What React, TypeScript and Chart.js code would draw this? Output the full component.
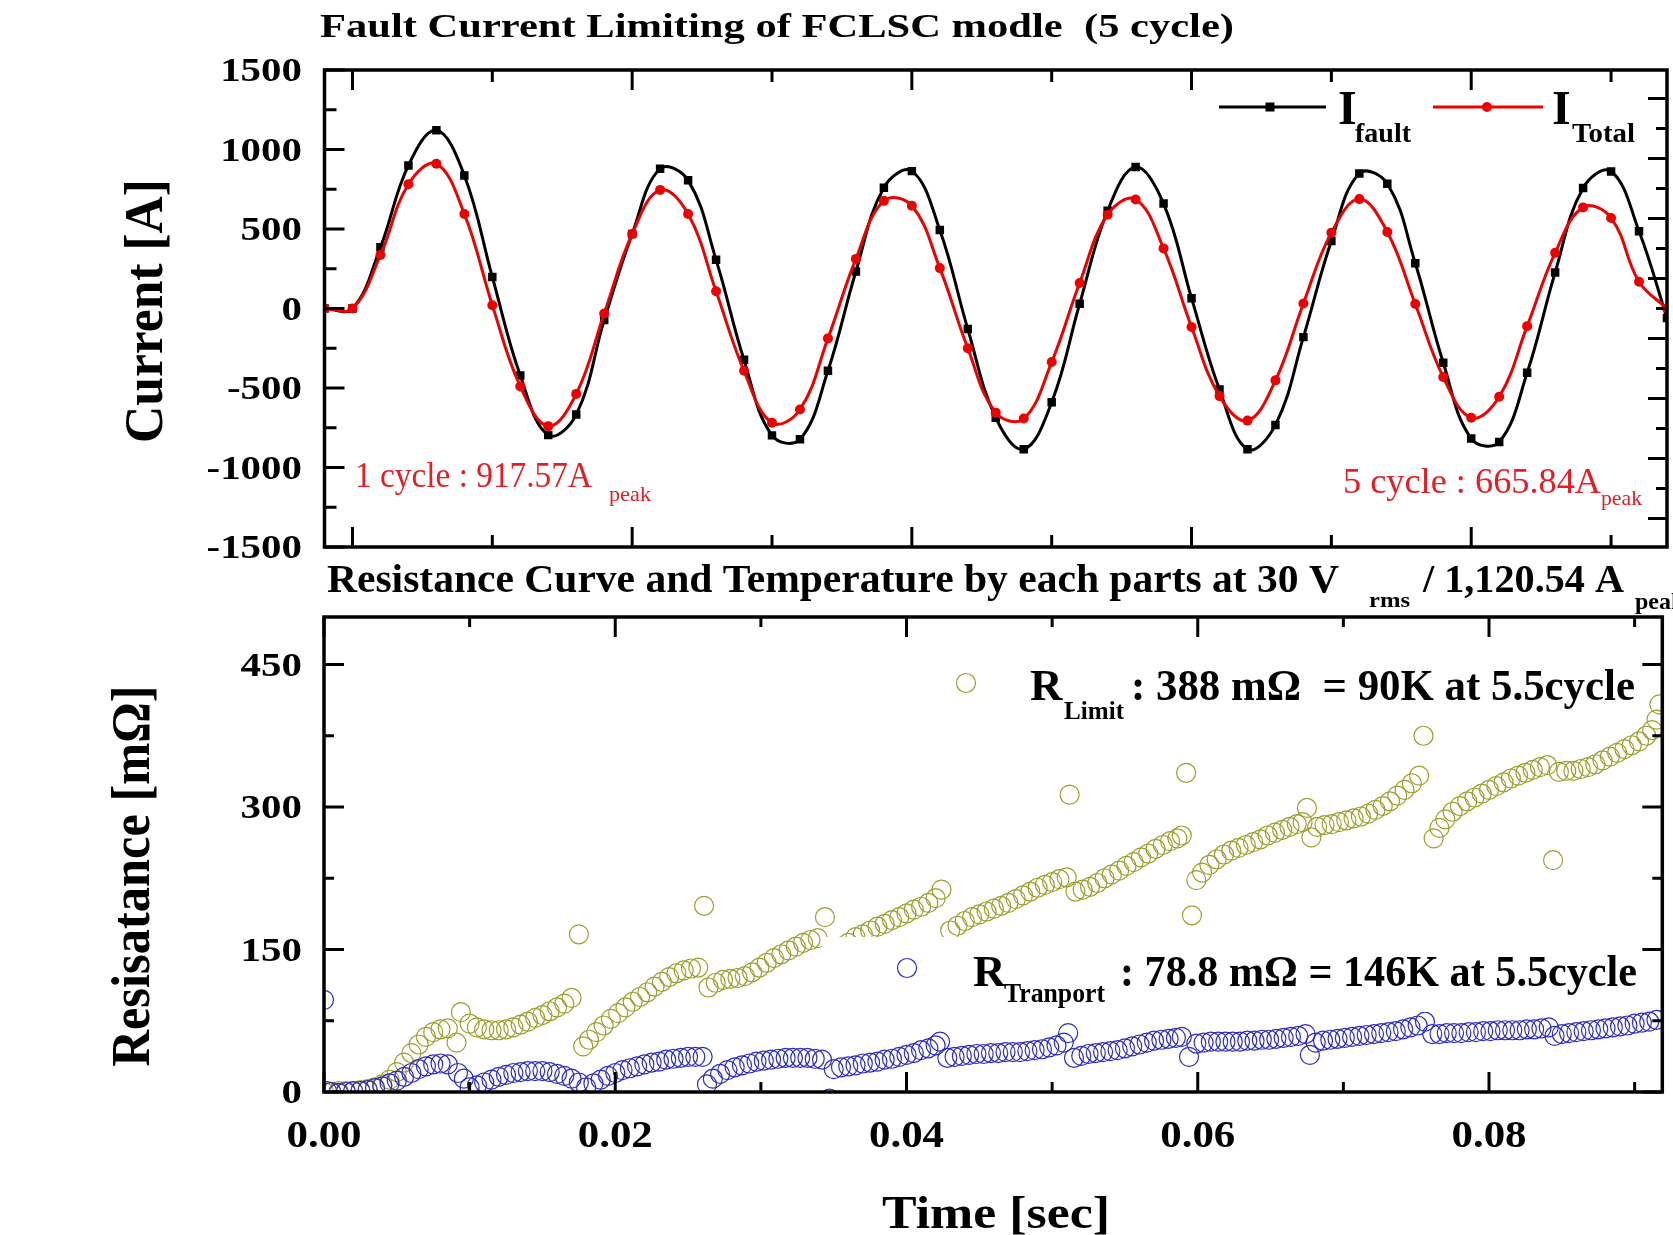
import React, { useEffect, useRef } from 'react';
import { Chart, registerables } from 'chart.js';

Chart.register(...registerables);

const PAGE_W = 1673;
const PAGE_H = 1235;
const SERIF = '"Liberation Serif", "Times New Roman", serif';
const RED = '#ee0000';
const RED_TEXT = '#e31e24';
const OLIVE = '#9e9e2c';
const BLUE = '#2c2cc8';

// ---------- Top chart: fault current ----------
const currentTime = [
  -0.002, 0, 0.002, 0.004, 0.006, 0.008, 0.01, 0.012, 0.014, 0.016, 0.018, 0.02, 0.022, 0.024, 0.026, 0.028,
  0.03, 0.032, 0.034, 0.036, 0.038, 0.04, 0.042, 0.044, 0.046, 0.048, 0.05, 0.052, 0.054, 0.056, 0.058, 0.06,
  0.062, 0.064, 0.066, 0.068, 0.07, 0.072, 0.074, 0.076, 0.078, 0.08, 0.082, 0.084, 0.086, 0.088, 0.09, 0.092, 0.094,
];
const iFault = [
  0, 0, 385, 900, 1121, 837, 198, -421, -796, -667, -73, 469, 879, 806, 306, -323,
  -798, -823, -392, 233, 760, 864, 494, -129, -687, -885, -590, 30, 615, 890, 660, 65,
  -510, -885, -732, -180, 425, 849, 785, 285, -341, -818, -839, -404, 226, 758, 862, 486, -60,
];
const iTotal = [
  0, 0, 337, 781, 910, 594, 21, -490, -740, -537, -31, 469, 746, 594, 108, -392,
  -719, -635, -188, 312, 677, 646, 254, -250, -655, -692, -337, 160, 590, 686, 378, -116,
  -551, -705, -452, 32, 477, 688, 481, 28, -431, -687, -555, -111, 350, 636, 569, 168, 0,
];
const currentMajor = [-1500, -1000, -500, 0, 500, 1000, 1500];
const currentMinor = [-1250, -750, -250, 250, 750, 1250];
const currentLabels = ['-1500', '-1000', '-500', '0', '500', '1000', '1500'];
const mirrorTicks = [-1400, -1200, -1000, -800, -600, -400, -200, 0, 200, 400, 600, 800, 1000, 1200, 1400];
const timeMajor = [0, 0.02, 0.04, 0.06, 0.08];
const timeMinor = [0.01, 0.03, 0.05, 0.07, 0.09];
const timeLabels = ['0.00', '0.02', '0.04', '0.06', '0.08'];

// ---------- Bottom chart: resistance ----------
const limitTime = [
  0.0000, 0.0005, 0.0010, 0.0015, 0.0020, 0.0025, 0.0030, 0.0035, 0.0040, 0.0045,
  0.0050, 0.0055, 0.0060, 0.0065, 0.0070, 0.0075, 0.0080, 0.0085, 0.0091, 0.0094,
  0.0100, 0.0105, 0.0110, 0.0115, 0.0120, 0.0125, 0.0130, 0.0135, 0.0140, 0.0145,
  0.0150, 0.0155, 0.0160, 0.0165, 0.0170, 0.0175, 0.0178, 0.0182, 0.0187, 0.0192,
  0.0197, 0.0202, 0.0207, 0.0212, 0.0217, 0.0222, 0.0227, 0.0232, 0.0237, 0.0242,
  0.0247, 0.0252, 0.0257, 0.0261, 0.0264, 0.0269, 0.0274, 0.0279, 0.0284, 0.0289,
  0.0294, 0.0299, 0.0304, 0.0309, 0.0314, 0.0319, 0.0324, 0.0329, 0.0334, 0.0339,
  0.0344, 0.0350, 0.0355, 0.0360, 0.0365, 0.0370, 0.0375, 0.0380, 0.0385, 0.0390,
  0.0395, 0.0400, 0.0405, 0.0410, 0.0415, 0.0420, 0.0424, 0.0430, 0.0435, 0.0440,
  0.0445, 0.0450, 0.0455, 0.0460, 0.0465, 0.0470, 0.0475, 0.0480, 0.0485, 0.0490,
  0.0495, 0.0500, 0.0505, 0.0510, 0.0512, 0.0516, 0.0521, 0.0526, 0.0531, 0.0536,
  0.0541, 0.0546, 0.0551, 0.0556, 0.0561, 0.0566, 0.0571, 0.0576, 0.0581, 0.0586,
  0.0589, 0.0592, 0.0596, 0.0599, 0.0603, 0.0608, 0.0613, 0.0618, 0.0623, 0.0628,
  0.0633, 0.0638, 0.0643, 0.0648, 0.0653, 0.0658, 0.0663, 0.0668, 0.0672, 0.0675,
  0.0678, 0.0682, 0.0687, 0.0692, 0.0697, 0.0702, 0.0707, 0.0712, 0.0717, 0.0722,
  0.0727, 0.0732, 0.0737, 0.0742, 0.0747, 0.0752, 0.0755, 0.0762, 0.0766, 0.0770,
  0.0775, 0.0780, 0.0785, 0.0790, 0.0795, 0.0800, 0.0805, 0.0810, 0.0815, 0.0820,
  0.0825, 0.0830, 0.0835, 0.0840, 0.0844, 0.0848, 0.0853, 0.0858, 0.0863, 0.0868,
  0.0873, 0.0878, 0.0883, 0.0888, 0.0893, 0.0898, 0.0903, 0.0908, 0.0912, 0.0915,
  0.0917,
];
const limitR = [
  0, 0, 1, 1, 1, 2, 3, 5, 8, 13,
  21, 31, 41, 50, 58, 63, 66, 67, 52, 84,
  72, 68, 66, 65, 65, 66, 68, 71, 74, 78,
  81, 85, 89, 93, 99, 166, 48, 55, 63, 70,
  77, 83, 89, 95, 100, 105, 111, 116, 121, 125,
  128, 130, 131, 196, 110, 115, 118, 119, 120, 122,
  126, 131, 136, 141, 145, 149, 153, 157, 160, 162,
  184, 150, 153, 157, 163, 166, 170, 174, 177, 181,
  184, 188, 192, 195, 199, 204, 213, 170, 175, 180,
  184, 187, 190, 193, 196, 199, 203, 207, 211, 215,
  218, 221, 224, 226, 313, 211, 213, 216, 220, 225,
  229, 233, 238, 242, 247, 251, 256, 260, 264, 267,
  270, 336, 186, 223, 231, 239, 245, 250, 254, 257,
  260, 263, 266, 270, 273, 276, 279, 282, 284, 299,
  268, 279, 281, 282, 284, 286, 288, 290, 293, 297,
  301, 306, 312, 318, 325, 333, 375, 267, 278, 287,
  295, 301, 306, 310, 314, 318, 322, 326, 330, 333,
  336, 339, 342, 344, 244, 337, 338, 338, 340, 342,
  345, 349, 353, 357, 361, 365, 369, 375, 381, 392,
  408,
];
const transportTime = [
  0.0000, 0.0002, 0.0005, 0.0010, 0.0015, 0.0020, 0.0025, 0.0030, 0.0035, 0.0040,
  0.0045, 0.0050, 0.0055, 0.0060, 0.0065, 0.0070, 0.0075, 0.0080, 0.0085, 0.0092,
  0.0096, 0.0100, 0.0105, 0.0110, 0.0115, 0.0120, 0.0125, 0.0130, 0.0135, 0.0140,
  0.0145, 0.0150, 0.0155, 0.0160, 0.0165, 0.0170, 0.0175, 0.0180, 0.0185, 0.0190,
  0.0195, 0.0200, 0.0205, 0.0210, 0.0215, 0.0220, 0.0225, 0.0230, 0.0235, 0.0240,
  0.0245, 0.0250, 0.0255, 0.0260, 0.0263, 0.0267, 0.0272, 0.0277, 0.0282, 0.0287,
  0.0292, 0.0297, 0.0302, 0.0307, 0.0312, 0.0317, 0.0322, 0.0327, 0.0332, 0.0337,
  0.0342, 0.0347, 0.0350, 0.0355, 0.0360, 0.0365, 0.0370, 0.0375, 0.0380, 0.0385,
  0.0390, 0.0395, 0.0400, 0.0405, 0.0410, 0.0415, 0.0420, 0.0423, 0.0428, 0.0433,
  0.0438, 0.0443, 0.0448, 0.0453, 0.0458, 0.0463, 0.0468, 0.0473, 0.0478, 0.0483,
  0.0488, 0.0493, 0.0498, 0.0503, 0.0508, 0.0511, 0.0515, 0.0520, 0.0525, 0.0530,
  0.0535, 0.0540, 0.0545, 0.0550, 0.0555, 0.0560, 0.0565, 0.0570, 0.0575, 0.0580,
  0.0585, 0.0589, 0.0594, 0.0599, 0.0604, 0.0609, 0.0614, 0.0619, 0.0624, 0.0629,
  0.0634, 0.0639, 0.0644, 0.0649, 0.0654, 0.0659, 0.0664, 0.0669, 0.0674, 0.0677,
  0.0681, 0.0686, 0.0691, 0.0696, 0.0701, 0.0706, 0.0711, 0.0716, 0.0721, 0.0726,
  0.0731, 0.0736, 0.0741, 0.0746, 0.0751, 0.0756, 0.0761, 0.0766, 0.0771, 0.0776,
  0.0781, 0.0786, 0.0791, 0.0796, 0.0801, 0.0806, 0.0811, 0.0816, 0.0821, 0.0826,
  0.0831, 0.0836, 0.0841, 0.0845, 0.0850, 0.0855, 0.0860, 0.0865, 0.0870, 0.0875,
  0.0880, 0.0885, 0.0890, 0.0895, 0.0900, 0.0905, 0.0910, 0.0915,
];
const transportR = [
  97, 1, 0, -1, 0, 1, 1, 2, 4, 6,
  9, 12, 16, 20, 24, 27, 29, 30, 29, 20,
  14, 5, 7, 10, 13, 16, 18, 20, 21, 22,
  22, 22, 21, 19, 17, 14, 10, 5, 9, 13,
  17, 20, 23, 25, 27, 29, 31, 32, 34, 35,
  36, 37, 37, 37, 8, 14, 19, 23, 26, 28,
  30, 32, 33, 34, 35, 36, 36, 36, 36, 35,
  34, -7, 24, 26, 27, 28, 30, 31, 32, 34,
  35, 37, 39, 41, 44, 46, 49, 53, 36, 37,
  38, 39, 40, 40, 41, 41, 42, 42, 42, 43,
  44, 45, 47, 49, 52, 62, 36, 38, 40, 41,
  42, 43, 44, 46, 48, 50, 52, 54, 55, 56,
  57, 58, 37, 51, 52, 53, 53, 53, 53, 53,
  54, 54, 55, 55, 56, 57, 58, 59, 61, 39,
  52, 54, 55, 56, 57, 58, 59, 60, 61, 62,
  63, 64, 66, 68, 70, 74, 61, 61, 62, 62,
  62, 63, 63, 64, 64, 65, 65, 65, 65, 66,
  66, 67, 68, 59, 61, 62, 63, 64, 65, 66,
  67, 68, 69, 70, 72, 73, 74, 76,
];
const resMajor = [0, 150, 300, 450];
const resMinor = [75, 225, 375];
const resLabels = ['0', '150', '300', '450'];

// ---------- drawing helpers ----------
type TOpts = {
  size: number;
  bold?: boolean;
  color?: string;
  width?: number;
  sx?: number;
  align?: 'left' | 'center' | 'right';
  rotate?: boolean;
  base?: CanvasTextBaseline;
};

function drawText(ctx: CanvasRenderingContext2D, text: string, x: number, y: number, o: TOpts) {
  ctx.save();
  ctx.font = `${o.bold === false ? '' : 'bold '}${o.size}px ${SERIF}`;
  ctx.fillStyle = o.color || '#000';
  ctx.textBaseline = o.base || 'alphabetic';
  ctx.textAlign = 'left';
  const w = ctx.measureText(text).width;
  const sx = o.width ? o.width / w : o.sx || 1;
  ctx.translate(x, y);
  if (o.rotate) ctx.rotate(-Math.PI / 2);
  ctx.scale(sx, 1);
  const a = o.align || 'left';
  const x0 = a === 'center' ? -w / 2 : a === 'right' ? -w : 0;
  ctx.fillText(text, x0, 0);
  ctx.restore();
}

function seg(ctx: CanvasRenderingContext2D, x1: number, y1: number, x2: number, y2: number) {
  ctx.beginPath();
  ctx.moveTo(x1, y1);
  ctx.lineTo(x2, y2);
  ctx.stroke();
}

function drawFrame(
  chart: any,
  xMajor: number[],
  xMinor: number[],
  yMajor: number[],
  yMinor: number[],
  majorLen: number,
  minorLen: number,
  mirrorRight: boolean,
) {
  const { ctx, chartArea: a, scales } = chart;
  const xs = scales.x;
  const ys = scales.y;
  ctx.save();
  ctx.strokeStyle = '#000';
  ctx.lineWidth = 3;
  const xt = (vals: number[], len: number) => {
    for (const v of vals) {
      const p = xs.getPixelForValue(v);
      seg(ctx, p, a.bottom, p, a.bottom - len);
      seg(ctx, p, a.top, p, a.top + len);
    }
  };
  const yt = (vals: number[], len: number) => {
    for (const v of vals) {
      const p = ys.getPixelForValue(v);
      seg(ctx, a.left, p, a.left + len, p);
      if (mirrorRight) seg(ctx, a.right, p, a.right - len, p);
    }
  };
  xt(xMajor, majorLen);
  xt(xMinor, minorLen);
  yt(yMajor, majorLen);
  yt(yMinor, minorLen);
  ctx.lineWidth = 3.5;
  ctx.strokeRect(a.left, a.top, a.right - a.left, a.bottom - a.top);
  ctx.restore();
}

const topDecor = {
  id: 'topDecor',
  afterDraw(chart: any) {
    const { ctx, chartArea: a, scales } = chart;
    drawFrame(chart, timeMajor, timeMinor, currentMajor, currentMinor, 20, 12, false);
    // right-hand mirrored ticks of the second layer
    const y2 = scales.y2;
    ctx.save();
    ctx.strokeStyle = '#000';
    ctx.lineWidth = 3;
    for (const v of mirrorTicks) {
      const p = y2.getPixelForValue(v);
      const long = Math.abs(v / 200) % 2 === 1;
      seg(ctx, a.right, p, a.right - (long ? 19 : 11), p);
    }
    ctx.restore();

    // y tick labels
    currentMajor.forEach((v, i) => {
      drawText(ctx, currentLabels[i], 302, scales.y.getPixelForValue(v) + 11, { size: 33, sx: 1.24, align: 'right' });
    });
    // title and axis title
    drawText(ctx, 'Fault Current Limiting of FCLSC modle  (5 cycle)', 320, 37, { size: 34, width: 914 });
    drawText(ctx, 'Current [A]', 148, 311, { size: 54, rotate: true, align: 'center', width: 264, base: 'middle' });

    // legend
    ctx.save();
    ctx.lineWidth = 3;
    ctx.strokeStyle = '#000';
    seg(ctx, 1219, 107, 1326, 107);
    ctx.fillStyle = '#000';
    ctx.fillRect(1270 - 4.5, 107 - 4.5, 9, 9);
    ctx.strokeStyle = RED;
    seg(ctx, 1433, 107, 1543, 107);
    ctx.fillStyle = RED;
    ctx.beginPath();
    ctx.arc(1487, 107, 5, 0, Math.PI * 2);
    ctx.fill();
    ctx.restore();
    drawText(ctx, 'I', 1338, 124, { size: 48 });
    drawText(ctx, 'fault', 1355, 142, { size: 27, width: 56 });
    drawText(ctx, 'I', 1552, 124, { size: 48 });
    drawText(ctx, 'Total', 1572, 142, { size: 27, width: 63 });

    // annotations
    drawText(ctx, '1 cycle : 917.57A', 355, 487, { size: 35, bold: false, color: RED_TEXT, width: 237 });
    drawText(ctx, 'peak', 609, 501, { size: 22, bold: false, color: RED_TEXT, width: 42 });
    drawText(ctx, '5 cycle : 665.84A', 1343, 493, { size: 35, bold: false, color: RED_TEXT, width: 258 });
    drawText(ctx, 'peak', 1601, 505, { size: 22, bold: false, color: RED_TEXT, width: 41 });
  },
};

const botDecor = {
  id: 'botDecor',
  afterDatasetsDraw(chart: any) {
    const { ctx } = chart;
    ctx.save();
    ctx.fillStyle = '#fff';
    ctx.fillRect(822, 937, 821, 75);
    ctx.restore();
  },
  afterDraw(chart: any) {
    const { ctx, scales } = chart;
    drawFrame(chart, timeMajor, timeMinor, resMajor, resMinor, 20, 10, true);
    resMajor.forEach((v, i) => {
      drawText(ctx, resLabels[i], 302, scales.y.getPixelForValue(v) + 11, { size: 33, sx: 1.24, align: 'right' });
    });
    timeMajor.forEach((v, i) => {
      drawText(ctx, timeLabels[i], scales.x.getPixelForValue(v), 1147, { size: 37, sx: 1.16, align: 'center' });
    });
    // titles
    drawText(ctx, 'Resistance Curve and Temperature by each parts at 30 V', 327, 592, { size: 40, width: 1012 });
    drawText(ctx, 'rms', 1369, 607, { size: 22, width: 41 });
    drawText(ctx, '/ 1,120.54 A', 1423, 592, { size: 40, width: 201 });
    drawText(ctx, 'peak', 1635, 609, { size: 24 });
    drawText(ctx, 'Resisatance [mΩ]', 135, 876, { size: 54, rotate: true, align: 'center', width: 381, base: 'middle' });
    drawText(ctx, 'Time [sec]', 996, 1228, { size: 46, align: 'center', width: 228 });

    // legend-like labels
    ctx.save();
    ctx.lineWidth = 1.2;
    ctx.strokeStyle = OLIVE;
    ctx.beginPath();
    ctx.arc(966, 683, 9.5, 0, Math.PI * 2);
    ctx.stroke();
    ctx.strokeStyle = BLUE;
    ctx.beginPath();
    ctx.arc(907, 968, 9.5, 0, Math.PI * 2);
    ctx.stroke();
    ctx.restore();
    drawText(ctx, 'R', 1030, 700, { size: 45 });
    drawText(ctx, 'Limit', 1064, 719, { size: 26, width: 60 });
    drawText(ctx, ': 388 mΩ  = 90K at 5.5cycle', 1131, 700, { size: 44, width: 504 });
    drawText(ctx, 'R', 973, 986, { size: 45 });
    drawText(ctx, 'Tranport', 1004, 1002, { size: 27, width: 101 });
    drawText(ctx, ': 78.8 mΩ = 146K at 5.5cycle', 1120, 986, { size: 45, width: 517 });
  },
};

export default function App() {
  const topRef = useRef<HTMLCanvasElement>(null);
  const botRef = useRef<HTMLCanvasElement>(null);

  useEffect(() => {
    const top = new Chart(topRef.current as HTMLCanvasElement, {
      type: 'line',
      data: {
        datasets: [
          {
            label: 'I_Total',
            data: currentTime.map((t, i) => ({ x: t, y: iTotal[i] })),
            borderColor: RED,
            backgroundColor: RED,
            borderWidth: 3,
            tension: 0.4,
            pointStyle: 'circle',
            pointRadius: 5,
            pointBackgroundColor: RED,
            pointBorderColor: RED,
            pointBorderWidth: 0,
            clip: 0,
          },
          {
            label: 'I_fault',
            data: currentTime.map((t, i) => ({ x: t, y: iFault[i] })),
            borderColor: '#000',
            backgroundColor: '#000',
            borderWidth: 3,
            tension: 0.4,
            pointStyle: 'rect',
            pointRadius: 6,
            pointBackgroundColor: '#000',
            pointBorderColor: '#000',
            pointBorderWidth: 0,
            clip: 0,
          },
        ],
      },
      options: {
        responsive: false,
        animation: false,
        devicePixelRatio: 1,
        events: [],
        layout: { padding: { left: 324.5, top: 70, right: 5, bottom: 688 } },
        plugins: { legend: { display: false }, tooltip: { enabled: false }, title: { display: false } },
        scales: {
          x: { type: 'linear', min: -0.002, max: 0.094, display: false },
          y: { type: 'linear', min: -1500, max: 1500, display: false },
          y2: { type: 'linear', position: 'right', min: -1590, max: 1590, display: false },
        },
      },
      plugins: [topDecor],
    } as any);

    const bot = new Chart(botRef.current as HTMLCanvasElement, {
      type: 'scatter',
      data: {
        datasets: [
          {
            label: 'R_Tranport',
            data: transportTime.map((t, i) => ({ x: t, y: transportR[i] })),
            pointStyle: 'circle',
            pointRadius: 9.5,
            pointBorderWidth: 1.2,
            pointBorderColor: BLUE,
            borderColor: BLUE,
            pointBackgroundColor: 'rgba(0,0,0,0)',
            backgroundColor: 'rgba(0,0,0,0)',
            showLine: false,
            clip: 0,
          },
          {
            label: 'R_Limit',
            data: limitTime.map((t, i) => ({ x: t, y: limitR[i] })),
            pointStyle: 'circle',
            pointRadius: 9.5,
            pointBorderWidth: 1.2,
            pointBorderColor: OLIVE,
            borderColor: OLIVE,
            pointBackgroundColor: 'rgba(0,0,0,0)',
            backgroundColor: 'rgba(0,0,0,0)',
            showLine: false,
            clip: 0,
          },
        ],
      },
      options: {
        responsive: false,
        animation: false,
        devicePixelRatio: 1,
        events: [],
        layout: { padding: { left: 324, top: 617, right: 6, bottom: 143 } },
        plugins: { legend: { display: false }, tooltip: { enabled: false }, title: { display: false } },
        scales: {
          x: { type: 'linear', min: 0, max: 0.0919, display: false },
          y: { type: 'linear', min: 0, max: 500, display: false },
        },
      },
      plugins: [botDecor],
    } as any);

    return () => {
      top.destroy();
      bot.destroy();
    };
  }, []);

  return (
    <div
      style={{
        position: 'absolute',
        left: 0,
        top: 0,
        width: PAGE_W,
        height: PAGE_H,
        background: '#fff',
        overflow: 'hidden',
      }}
    >
      <canvas ref={topRef} width={PAGE_W} height={PAGE_H} style={{ position: 'absolute', left: 0, top: 0 }} />
      <canvas ref={botRef} width={PAGE_W} height={PAGE_H} style={{ position: 'absolute', left: 0, top: 0 }} />
    </div>
  );
}
